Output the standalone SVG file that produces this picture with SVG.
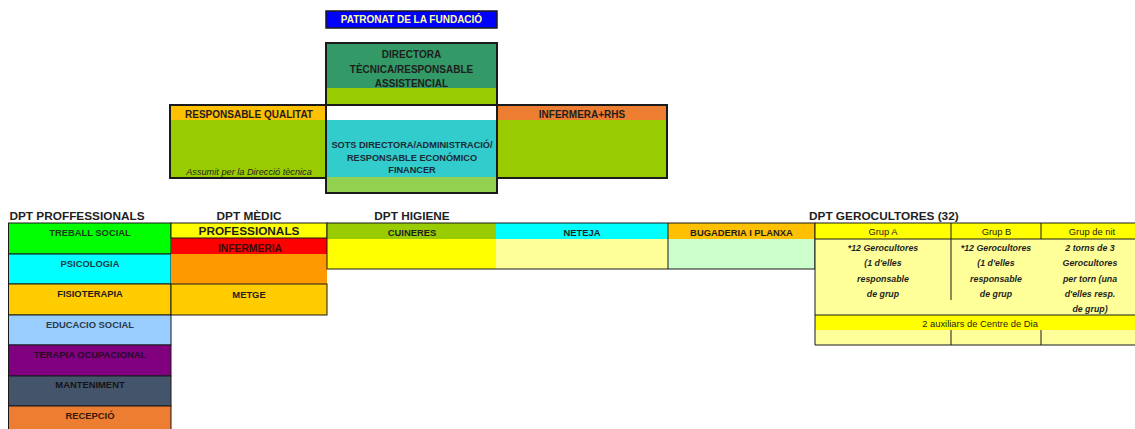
<svg xmlns="http://www.w3.org/2000/svg" width="1135" height="429" viewBox="0 0 1135 429">
<style>
text{font-family:"Liberation Sans",Arial,sans-serif;font-weight:bold;fill:#1e1e1e;text-anchor:middle}
.s{font-size:10px}
.m{font-size:9.4px}
.l{font-size:11.8px}
.n{font-size:9.4px;font-weight:normal}
.i{font-size:8.8px;font-style:italic}
.bx{fill:none;stroke:#1a1a1a;stroke-width:2}
.ln{stroke:#1a1a1a;stroke-width:1}
.o{fill:none}
</style>
<rect width="1135" height="429" fill="#fff"/>
<g id="patronat">
<rect x="326" y="11" width="171" height="17" fill="#0000FF" stroke="#1a1a1a" stroke-width="1.5"/>
<text x="411.5" y="23.3" class="s" style="fill:#FFFF99">PATRONAT DE LA FUNDACIÓ</text>
</g>
<g id="directora">
<rect x="326" y="43" width="171" height="45" fill="#339966"/>
<rect x="326" y="88" width="171" height="17" fill="#99CC00"/>
<rect x="326" y="43" width="171" height="62" class="bx"/>
<text x="411.5" y="58" class="s">DIRECTORA</text>
<text x="411.5" y="72.5" class="s">TÈCNICA/RESPONSABLE</text>
<text x="411.5" y="87" class="s">ASSISTENCIAL</text>
</g>
<g id="qualitat">
<rect x="170" y="105" width="156" height="15" fill="#FFC000"/>
<rect x="170" y="120" width="156" height="58" fill="#99CC00"/>
<rect x="170" y="105" width="156" height="73" class="bx"/>
<text x="249" y="117.5" class="s">RESPONSABLE QUALITAT</text>
<text x="249" y="174.5" class="i" style="font-weight:normal;font-size:9.2px">Assumit per la Direcció tècnica</text>
</g>
<g id="sots">
<rect x="326" y="105" width="171" height="15" fill="#fff"/>
<rect x="326" y="120" width="171" height="57" fill="#33CCCC"/>
<rect x="326" y="177" width="171" height="16" fill="#92D050"/>
<rect x="326" y="105" width="171" height="88" class="bx"/>
<text x="412" y="147.5" style="font-size:9.2px;fill:#1a2a36">SOTS DIRECTORA/ADMINISTRACIÓ/</text>
<text x="412" y="160.5" style="font-size:9.2px;fill:#1a2a36">RESPONSABLE ECONÓMICO</text>
<text x="412" y="173" style="font-size:9.2px;fill:#1a2a36">FINANCER</text>
</g>
<g id="infermera">
<rect x="497" y="105" width="170" height="15" fill="#ED7D31"/>
<rect x="497" y="120" width="170" height="58" fill="#99CC00"/>
<rect x="497" y="105" width="170" height="73" class="bx"/>
<text x="582" y="117.5" class="s">INFERMERA+RHS</text>
</g>
<g id="titles">
<text x="77" y="220" class="l">DPT PROFFESSIONALS</text>
<text x="249" y="220" class="l">DPT MÈDIC</text>
<text x="412" y="220" class="l">DPT HIGIENE</text>
<text x="809" y="220" class="l" style="text-anchor:start">DPT GEROCULTORES (32)</text>
</g>
<g id="professionals">
<rect x="8.5" y="223" width="162.5" height="31" fill="#00FF00" class="ln"/>
<rect x="8.5" y="254" width="162.5" height="30" fill="#00FFFF" class="ln"/>
<rect x="8.5" y="284" width="162.5" height="31" fill="#FFCC00" class="ln"/>
<rect x="8.5" y="315" width="162.5" height="30" fill="#99CCFF" class="ln"/>
<rect x="8.5" y="345" width="162.5" height="31" fill="#800080" class="ln"/>
<rect x="8.5" y="376" width="162.5" height="30" fill="#44546A" class="ln"/>
<rect x="8.5" y="406" width="162.5" height="30" fill="#ED7D31" class="ln"/>
<text x="90" y="235.5" class="m" style="fill:#1a3a1a">TREBALL SOCIAL</text>
<text x="90" y="266.5" class="m" style="fill:#1a3a4a">PSICOLOGIA</text>
<text x="90" y="297" class="m">FISIOTERAPIA</text>
<text x="90" y="327.5" class="m" style="fill:#2a3a4a">EDUCACIO SOCIAL</text>
<text x="90" y="357.5" class="m" style="fill:#2a0a2a">TERAPIA OCUPACIONAL</text>
<text x="90" y="388" class="m" style="fill:#141414">MANTENIMENT</text>
<text x="90" y="418.5" class="m" style="fill:#3a1a0a">RECEPCIÓ</text>
</g>
<g id="medic">
<rect x="171" y="238" width="156" height="16" fill="#FF0000"/>
<rect x="171" y="254" width="156" height="30" fill="#FF9900"/>
<rect x="171" y="223" width="156" height="15" fill="#FFFF00" class="ln"/>
<rect x="171" y="284" width="156" height="31" fill="#FFCC00" class="ln"/>
<text x="249" y="235.3" class="l">PROFESSIONALS</text>
<text x="250" y="251.5" style="font-size:10.3px;fill:#3a0a0a">INFERMERIA</text>
<text x="249" y="297.5" class="m">METGE</text>
</g>
<g id="higiene">
<rect x="327" y="223" width="169" height="16" fill="#99CC00"/>
<rect x="327" y="239" width="169" height="30" fill="#FFFF00"/>
<rect x="496" y="223" width="172" height="16" fill="#00FFFF"/>
<rect x="496" y="239" width="172" height="30" fill="#FFFF99"/>
<rect x="668" y="223" width="147" height="16" fill="#FFC000"/>
<rect x="668" y="239" width="147" height="30" fill="#CCFFCC"/>
<rect x="327" y="223" width="488" height="46" class="ln o"/>
<line x1="668" y1="223" x2="668" y2="269" class="ln"/>
<text x="412" y="235.5" class="m">CUINERES</text>
<text x="582" y="235.5" class="m">NETEJA</text>
<text x="741.5" y="235.5" class="m">BUGADERIA I PLANXA</text>
</g>
<g id="gerocultores">
<rect x="815" y="223" width="325" height="16" fill="#FFFF00"/>
<rect x="815" y="239" width="325" height="76" fill="#FFFF99"/>
<rect x="815" y="315" width="325" height="15" fill="#FFFF00"/>
<rect x="815" y="330" width="325" height="15" fill="#FFFF99"/>
<path d="M815 223H1140M815 239H1140M815 315H1140M815 345H1140M815 223V345M951 223V239M1041 223V239M951 239V300M951 330V345M1041 330V345" class="ln o"/>
<text x="883" y="234.5" class="n">Grup A</text>
<text x="996.5" y="234.5" class="n">Grup B</text>
<text x="1092" y="234.5" class="n">Grup de nit</text>
<g class="i">
<text x="883" y="251">*12 Gerocultores</text>
<text x="883" y="266">(1 d'elles</text>
<text x="883" y="281.5">responsable</text>
<text x="883" y="297">de grup</text>
<text x="996" y="251">*12 Gerocultores</text>
<text x="996" y="266">(1 d'elles</text>
<text x="996" y="281.5">responsable</text>
<text x="996" y="297">de grup</text>
<text x="1090" y="251">2 torns de 3</text>
<text x="1090" y="266">Gerocultores</text>
<text x="1090" y="281.5">per torn (una</text>
<text x="1090" y="297">d'elles resp.</text>
<text x="1090" y="312">de grup)</text>
</g>
<text x="980" y="327" class="n">2 auxiliars de Centre de Dia</text>
</g>
</svg>
